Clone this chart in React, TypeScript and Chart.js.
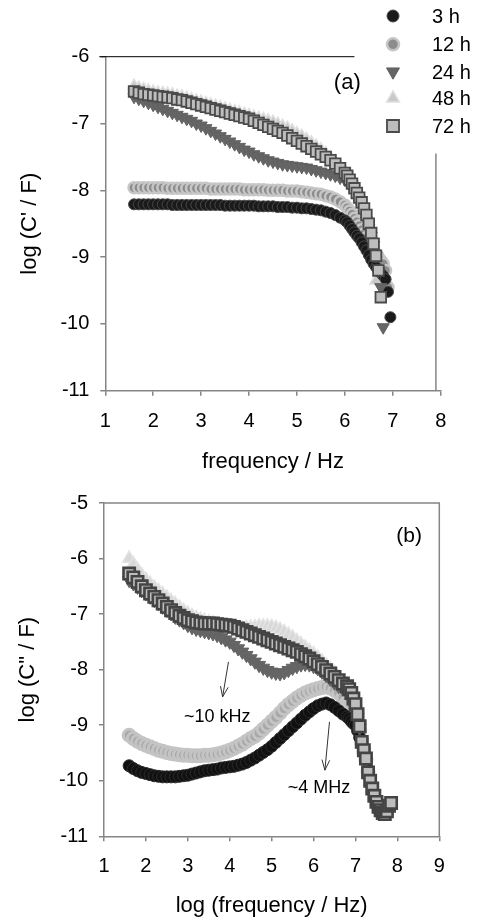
import React, { useEffect, useRef } from 'react';
import { Chart, registerables } from 'chart.js';

Chart.register(...registerables);

const FONT = "'Liberation Sans', Arial, Helvetica, sans-serif";
const AXIS = '#858585';

// ---------- data: panel (a)  log C' vs log f ----------
const freqA = [
  1.6, 1.7, 1.8, 1.9, 2.0, 2.1, 2.2, 2.3, 2.4, 2.5,
  2.6, 2.7, 2.8, 2.9, 3.0, 3.1, 3.2, 3.3, 3.4, 3.5,
  3.6, 3.7, 3.8, 3.9, 4.0, 4.1, 4.2, 4.3, 4.4, 4.5,
  4.6, 4.7, 4.8, 4.9, 5.0, 5.1, 5.2, 5.3, 5.4, 5.5,
  5.6, 5.7, 5.8, 5.9, 6.0, 6.05, 6.1, 6.15, 6.2, 6.25,
  6.3, 6.35, 6.4, 6.45, 6.5, 6.55, 6.6, 6.65, 6.7, 6.75,
  6.8, 6.85, 6.9, 6.95,
];
const capA3h = [
  -8.21, -8.21, -8.21, -8.21, -8.21, -8.21, -8.21, -8.21, -8.22, -8.22,
  -8.22, -8.22, -8.22, -8.22, -8.22, -8.22, -8.22, -8.22, -8.22, -8.23,
  -8.23, -8.23, -8.23, -8.23, -8.23, -8.23, -8.24, -8.24, -8.24, -8.24,
  -8.25, -8.25, -8.25, -8.26, -8.26, -8.27, -8.27, -8.28, -8.29, -8.30,
  -8.32, -8.34, -8.37, -8.41, -8.45, -8.48, -8.53, -8.58, -8.63, -8.68,
  -8.72, -8.78, -8.84, -8.90, -8.97, -9.04, -9.10, -9.15, -9.20, -9.24,
  -9.28, -9.33, -9.52, -9.90,
];
const capA12h = [
  -7.96, -7.96, -7.96, -7.96, -7.96, -7.96, -7.96, -7.97, -7.97, -7.97,
  -7.97, -7.97, -7.97, -7.97, -7.97, -7.97, -7.98, -7.98, -7.98, -7.98,
  -7.98, -7.98, -7.98, -7.99, -7.99, -7.99, -7.99, -7.99, -8.00, -8.00,
  -8.00, -8.00, -8.01, -8.01, -8.01, -8.02, -8.03, -8.04, -8.05, -8.06,
  -8.08, -8.10, -8.13, -8.17, -8.22, -8.26, -8.31, -8.36, -8.42, -8.47,
  -8.53, -8.59, -8.65, -8.71, -8.77, -8.83, -8.89, -8.95, -9.00, -9.05,
  -9.10, -9.20, -9.45, null,
];
const capA24h = [
  -6.60, -6.63, -6.66, -6.69, -6.72, -6.75, -6.78, -6.81, -6.84, -6.87,
  -6.90, -6.93, -6.96, -7.00, -7.03, -7.07, -7.11, -7.15, -7.19, -7.23,
  -7.27, -7.31, -7.35, -7.39, -7.42, -7.46, -7.49, -7.52, -7.55, -7.57,
  -7.59, -7.61, -7.62, -7.63, -7.64, -7.65, -7.66, -7.68, -7.70, -7.72,
  -7.74, -7.76, -7.78, -7.81, -7.84, -7.87, -7.91, -7.96, -8.02, -8.09,
  -8.17, -8.26, -8.35, -8.45, -8.56, -8.68, -8.82, -8.98, -9.20, -9.45,
  -10.05, null, null, null,
];
const capA48h = [
  -6.44, -6.47, -6.49, -6.51, -6.53, -6.54, -6.55, -6.56, -6.57, -6.59,
  -6.60, -6.62, -6.64, -6.66, -6.68, -6.70, -6.72, -6.74, -6.76, -6.78,
  -6.80, -6.82, -6.84, -6.86, -6.88, -6.90, -6.92, -6.94, -6.96, -6.98,
  -7.01, -7.04, -7.07, -7.11, -7.15, -7.19, -7.24, -7.29, -7.34, -7.39,
  -7.45, -7.51, -7.57, -7.64, -7.72, -7.77, -7.83, -7.90, -7.97, -8.05,
  -8.13, -8.22, -8.32, -8.44, -8.58, -8.75, -8.98, -9.35, null, null,
  null, null, null, null,
];
const capA72h = [
  -6.52, -6.54, -6.56, -6.57, -6.58, -6.59, -6.60, -6.61, -6.62, -6.64,
  -6.65, -6.67, -6.69, -6.71, -6.73, -6.75, -6.77, -6.79, -6.81, -6.83,
  -6.85, -6.87, -6.89, -6.91, -6.93, -6.96, -6.99, -7.02, -7.05, -7.08,
  -7.11, -7.14, -7.18, -7.22, -7.26, -7.30, -7.34, -7.38, -7.42, -7.46,
  -7.50, -7.55, -7.60, -7.67, -7.74, -7.78, -7.84, -7.90, -7.97, -8.04,
  -8.11, -8.18, -8.27, -8.37, -8.50, -8.64, -8.80, -8.98, -9.20, -9.60,
  null, null, null, null,
];

// ---------- data: panel (b)  log C'' vs log f ----------
const freqB = [
  1.6, 1.7, 1.8, 1.9, 2.0, 2.1, 2.2, 2.3, 2.4, 2.5,
  2.6, 2.7, 2.8, 2.9, 3.0, 3.1, 3.2, 3.3, 3.4, 3.5,
  3.6, 3.7, 3.8, 3.9, 4.0, 4.1, 4.2, 4.3, 4.4, 4.5,
  4.6, 4.7, 4.8, 4.9, 5.0, 5.1, 5.2, 5.3, 5.4, 5.5,
  5.6, 5.7, 5.8, 5.9, 6.0, 6.1, 6.2, 6.3, 6.4, 6.5,
  6.6, 6.7, 6.8, 6.85, 6.9, 6.95, 7.0, 7.05, 7.1, 7.15,
  7.2, 7.25, 7.3, 7.35, 7.4, 7.45, 7.5, 7.55, 7.6, 7.65,
  7.7, 7.75, 7.8, 7.85,
];
const capB3h = [
  -9.73, -9.78, -9.82, -9.85, -9.87, -9.89, -9.91, -9.92, -9.93, -9.93,
  -9.93, -9.93, -9.92, -9.91, -9.90, -9.88, -9.86, -9.84, -9.82, -9.81,
  -9.80, -9.79, -9.77, -9.76, -9.75, -9.74, -9.72, -9.70, -9.67, -9.63,
  -9.59, -9.54, -9.49, -9.44, -9.38, -9.31, -9.24, -9.17, -9.10, -9.03,
  -8.96, -8.89, -8.82, -8.76, -8.70, -8.65, -8.62, -8.60, -8.63, -8.68,
  -8.74, -8.80, -8.85, -8.88, -8.93, -8.97, -9.00, -9.10, -9.22, -9.35,
  -9.50, -9.62, -9.80, null, null, null, null, null, null, null,
  null, null, null, null,
];
const capB12h = [
  -9.18, -9.24, -9.29, -9.33, -9.36, -9.39, -9.42, -9.45, -9.47, -9.49,
  -9.51, -9.52, -9.53, -9.54, -9.54, -9.55, -9.55, -9.55, -9.54, -9.54,
  -9.53, -9.52, -9.50, -9.48, -9.45, -9.42, -9.38, -9.34, -9.29, -9.24,
  -9.20, -9.14, -9.07, -9.00, -8.93, -8.86, -8.78, -8.70, -8.63, -8.57,
  -8.51, -8.46, -8.42, -8.39, -8.36, -8.34, -8.32, -8.31, -8.33, -8.37,
  -8.42, -8.50, -8.58, -8.62, -8.67, -8.74, -8.83, -8.95, -9.10, -9.30,
  -9.47, -9.62, -9.84, null, null, null, null, null, null, null,
  null, null, null, null,
];
const capB24h = [
  -6.39, -6.45, -6.51, -6.57, -6.63, -6.69, -6.75, -6.81, -6.87, -6.93,
  -6.99, -7.05, -7.10, -7.15, -7.20, -7.24, -7.27, -7.29, -7.31, -7.33,
  -7.35, -7.38, -7.42, -7.46, -7.50, -7.56, -7.62, -7.68, -7.74, -7.80,
  -7.86, -7.92, -7.97, -8.01, -8.04, -8.06, -8.07, -8.05, -8.01, -7.97,
  -7.94, -7.91, -7.90, -7.91, -7.94, -7.98, -8.04, -8.10, -8.17, -8.24,
  -8.30, -8.35, -8.40, -8.45, -8.52, -8.60, -8.70, -8.85, -9.05, -9.30,
  -9.48, -9.63, -9.85, -10.00, -10.12, -10.25, -10.35, -10.45, -10.50, null,
  null, null, null, null,
];
const capB48h = [
  -6.00, -6.10, -6.20, -6.30, -6.38, -6.45, -6.52, -6.58, -6.64, -6.70,
  -6.76, -6.82, -6.88, -6.94, -6.99, -7.03, -7.07, -7.10, -7.12, -7.14,
  -7.16, -7.18, -7.20, -7.22, -7.24, -7.25, -7.26, -7.26, -7.25, -7.24,
  -7.23, -7.22, -7.22, -7.22, -7.23, -7.25, -7.28, -7.32, -7.37, -7.42,
  -7.48, -7.54, -7.60, -7.66, -7.72, -7.78, -7.85, -7.92, -7.99, -8.06,
  -8.14, -8.22, -8.28, -8.33, -8.40, -8.50, -8.60, -8.78, -9.00, -9.28,
  -9.44, -9.60, -9.84, -10.00, -10.13, -10.26, -10.37, -10.46, -10.52, -10.57,
  -10.58, -10.54, -10.45, null,
];
const capB72h = [
  -6.27, -6.34, -6.42, -6.50, -6.57, -6.63, -6.69, -6.75, -6.81, -6.87,
  -6.93, -6.98, -7.03, -7.07, -7.11, -7.13, -7.15, -7.16, -7.17, -7.17,
  -7.17, -7.18, -7.19, -7.20, -7.21, -7.23, -7.26, -7.29, -7.32, -7.35,
  -7.38, -7.41, -7.44, -7.47, -7.50, -7.53, -7.56, -7.59, -7.62, -7.65,
  -7.68, -7.72, -7.76, -7.80, -7.85, -7.90, -7.95, -8.01, -8.07, -8.13,
  -8.19, -8.25, -8.30, -8.35, -8.42, -8.52, -8.62, -8.80, -9.02, -9.30,
  -9.45, -9.60, -9.85, -10.00, -10.14, -10.27, -10.38, -10.47, -10.53, -10.58,
  -10.60, -10.55, -10.45, -10.40,
];

const seriesLabels = ['3 h', '12 h', '24 h', '48 h', '72 h'];

// ---------- styles ----------
type Sty = { shape: string; rot: number; bg: string; border: string; bw: number; r: number; order: number };
const STY: Sty[] = [
  { shape: 'circle', rot: 0, bg: '#1a1a1a', border: '#474747', bw: 1, r: 5.5, order: 2 },
  { shape: 'circle', rot: 0, bg: '#8c8c8c', border: '#c6c6c6', bw: 2.5, r: 5.5, order: 3 },
  { shape: 'triangle', rot: 180, bg: '#666666', border: '#606060', bw: 1, r: 7, order: 1 },
  { shape: 'triangle', rot: 0, bg: '#c9c9c9', border: '#e0e0e0', bw: 1.5, r: 7, order: 4 },
  { shape: 'rect', rot: 0, bg: '#bdbdbd', border: '#4a4a4a', bw: 1.8, r: 7.5, order: 0 },
];
// panel (b) draws its denser bands with slightly heavier markers
const STY_B_OVERRIDE: Partial<Sty>[] = [
  { r: 6, bg: '#111111', border: '#2a2a2a' },
  { r: 6, bg: '#a8a8a8', border: '#c4c4c4', bw: 3 },
  { r: 7.5, bg: '#666666', border: '#636363' },
  { r: 7.5, bg: '#d8d8d8', border: '#e3e3e3' },
  { r: 8, bw: 2.6, border: '#444444' },
];

function pts(xs: number[], ys: (number | null)[]) {
  const out: { x: number; y: number }[] = [];
  xs.forEach((x, i) => {
    const y = ys[i];
    if (y !== null && y !== undefined) out.push({ x, y });
  });
  return out;
}

function makeDatasets(xs: number[], series: (number | null)[][], over: Partial<Sty>[] | null) {
  return series.map((ys, i) => {
    const s: Sty = { ...STY[i], ...(over ? over[i] : {}) };
    return {
      label: seriesLabels[i],
      data: pts(xs, ys),
      showLine: false,
      order: s.order,
      pointStyle: s.shape,
      pointRotation: s.rot,
      pointRadius: s.r,
      pointHoverRadius: s.r,
      pointBackgroundColor: s.bg,
      pointBorderColor: s.border,
      pointBorderWidth: s.bw,
    };
  });
}

function drawMarker(ctx: CanvasRenderingContext2D, s: Sty, x: number, y: number, r: number) {
  ctx.save();
  ctx.fillStyle = s.bg;
  ctx.strokeStyle = s.border;
  ctx.lineWidth = s.bw;
  ctx.beginPath();
  if (s.shape === 'circle') {
    ctx.arc(x, y, r, 0, Math.PI * 2);
  } else if (s.shape === 'triangle') {
    let a = (s.rot * Math.PI) / 180;
    ctx.moveTo(x + Math.sin(a) * r, y - Math.cos(a) * r);
    a += (2 * Math.PI) / 3;
    ctx.lineTo(x + Math.sin(a) * r, y - Math.cos(a) * r);
    a += (2 * Math.PI) / 3;
    ctx.lineTo(x + Math.sin(a) * r, y - Math.cos(a) * r);
    ctx.closePath();
  } else {
    const h = r * Math.SQRT1_2;
    ctx.rect(x - h, y - h, 2 * h, 2 * h);
  }
  ctx.fill();
  ctx.stroke();
  ctx.restore();
}

function xAxis(min: number, max: number, text: string, tickPad: number, titlePad: number, h: number) {
  return {
    type: 'linear',
    position: 'bottom',
    min,
    max,
    ticks: { stepSize: 1, color: '#000', font: { family: FONT, size: 20 }, padding: tickPad, callback: (v: any) => String(v) },
    grid: { display: true, drawOnChartArea: false, drawTicks: true, tickLength: 5, color: AXIS, lineWidth: 1.5 },
    border: { display: true, color: AXIS, width: 1.5 },
    title: { display: true, text, color: '#000', font: { family: FONT, size: 22 }, padding: { top: 0, bottom: titlePad } },
    afterFit: (s: any) => {
      s.height = h;
    },
  };
}

function yAxis(min: number, max: number, text: string, titlePad: number, w: number) {
  return {
    type: 'linear',
    position: 'left',
    min,
    max,
    ticks: { stepSize: 1, color: '#000', font: { family: FONT, size: 20 }, padding: 11, callback: (v: any) => String(v) },
    grid: { display: true, drawOnChartArea: false, drawTicks: true, tickLength: 5, color: AXIS, lineWidth: 1.5 },
    border: { display: true, color: AXIS, width: 1.5 },
    title: { display: true, text, color: '#000', font: { family: FONT, size: 22 }, padding: { top: titlePad, bottom: 0 } },
    afterFit: (s: any) => {
      s.width = w;
    },
  };
}

const legendRowsY = [16, 44.3, 71.7, 98.3, 126];
const legendR = [6, 6, 7.5, 7.5, 8.5];

const framePluginA = {
  id: 'frameA',
  afterDraw(chart: any) {
    const { ctx, chartArea: ca, scales } = chart;
    const x = scales.x;
    const y = scales.y;
    ctx.save();
    ctx.strokeStyle = '#000';
    ctx.lineWidth = 1;
    ctx.beginPath();
    ctx.moveTo(ca.left - 6, ca.top);
    ctx.lineTo(x.getPixelForValue(6.2), ca.top);
    ctx.stroke();
    ctx.strokeStyle = AXIS;
    ctx.lineWidth = 1.5;
    const rx = x.getPixelForValue(7.9);
    ctx.beginPath();
    ctx.moveTo(rx, y.getPixelForValue(-7.45));
    ctx.lineTo(rx, ca.bottom);
    ctx.stroke();
    ctx.fillStyle = '#000';
    ctx.font = `22px ${FONT}`;
    ctx.textAlign = 'center';
    ctx.textBaseline = 'middle';
    ctx.fillText('(a)', x.getPixelForValue(6.05), y.getPixelForValue(-6.39));
    // legend
    ctx.font = `20px ${FONT}`;
    ctx.textAlign = 'left';
    seriesLabels.forEach((lab, i) => {
      const ly = legendRowsY[i];
      drawMarker(ctx, STY[i], 393, ly, legendR[i]);
      ctx.fillStyle = '#000';
      ctx.fillText(lab, 432, ly + 1.5);
    });
    ctx.restore();
  },
};

function arrow(ctx: CanvasRenderingContext2D, x1: number, y1: number, x2: number, y2: number) {
  ctx.beginPath();
  ctx.moveTo(x1, y1);
  ctx.lineTo(x2, y2);
  const ang = Math.atan2(y2 - y1, x2 - x1);
  const L = 11;
  const spread = 0.36;
  ctx.moveTo(x2 - L * Math.cos(ang - spread), y2 - L * Math.sin(ang - spread));
  ctx.lineTo(x2, y2);
  ctx.lineTo(x2 - L * Math.cos(ang + spread), y2 - L * Math.sin(ang + spread));
  ctx.stroke();
}

const framePluginB = {
  id: 'frameB',
  afterDraw(chart: any) {
    const { ctx, chartArea: ca, scales } = chart;
    const x = scales.x;
    const y = scales.y;
    ctx.save();
    ctx.strokeStyle = AXIS;
    ctx.lineWidth = 1.5;
    ctx.beginPath();
    ctx.moveTo(ca.left, ca.top);
    ctx.lineTo(ca.right, ca.top);
    ctx.lineTo(ca.right, ca.bottom);
    ctx.stroke();
    ctx.fillStyle = '#000';
    ctx.textAlign = 'center';
    ctx.textBaseline = 'middle';
    ctx.font = `21px ${FONT}`;
    ctx.fillText('(b)', x.getPixelForValue(8.28), y.getPixelForValue(-5.59));
    ctx.strokeStyle = '#333';
    ctx.lineWidth = 1;
    arrow(ctx, x.getPixelForValue(3.97), y.getPixelForValue(-7.86), x.getPixelForValue(3.83), y.getPixelForValue(-8.49));
    arrow(ctx, x.getPixelForValue(6.38), y.getPixelForValue(-8.94), x.getPixelForValue(6.27), y.getPixelForValue(-9.81));
    ctx.font = `18px ${FONT}`;
    ctx.fillText('~10 kHz', x.getPixelForValue(3.7), y.getPixelForValue(-8.86));
    ctx.fillText('~4 MHz', x.getPixelForValue(6.13), y.getPixelForValue(-10.13));
    ctx.restore();
  },
};

export default function App() {
  const refA = useRef<HTMLCanvasElement | null>(null);
  const refB = useRef<HTMLCanvasElement | null>(null);

  useEffect(() => {
    if (!refA.current || !refB.current) return;
    const common = {
      responsive: false,
      maintainAspectRatio: false,
      animation: false,
      devicePixelRatio: 1,
      events: [],
      plugins: { legend: { display: false }, tooltip: { enabled: false } },
    };
    const chartA = new Chart(refA.current, {
      type: 'scatter',
      data: { datasets: makeDatasets(freqA, [capA3h, capA12h, capA24h, capA48h, capA72h], null) as any },
      options: {
        ...common,
        layout: { padding: { top: 56.7, right: 40.3, left: 0, bottom: 0 } },
        scales: {
          x: xAxis(1, 8, 'frequency / Hz', 14, 5, 89.3),
          y: yAxis(-11, -6, "log (C' / F)", 17, 105.3),
        },
      } as any,
      plugins: [framePluginA],
    });
    const chartB = new Chart(refB.current, {
      type: 'scatter',
      data: { datasets: makeDatasets(freqB, [capB3h, capB12h, capB24h, capB48h, capB72h], STY_B_OVERRIDE) as any },
      options: {
        ...common,
        layout: { padding: { top: 22.3, right: 41.7, left: 0, bottom: 0 } },
        scales: {
          x: xAxis(1, 9, 'log (frequency / Hz)', 13, 3, 85.7),
          y: yAxis(-11, -5, 'log (C" / F)', 15, 104),
        },
      } as any,
      plugins: [framePluginB],
    });
    return () => {
      chartA.destroy();
      chartB.destroy();
    };
  }, []);

  return (
    <div style={{ position: 'absolute', left: 0, top: 0, width: 481, height: 922, background: '#fff' }}>
      <canvas ref={refA} width={481} height={480} style={{ position: 'absolute', left: 0, top: 0, width: 481, height: 480 }} />
      <canvas ref={refB} width={481} height={442} style={{ position: 'absolute', left: 0, top: 480, width: 481, height: 442 }} />
    </div>
  );
}
